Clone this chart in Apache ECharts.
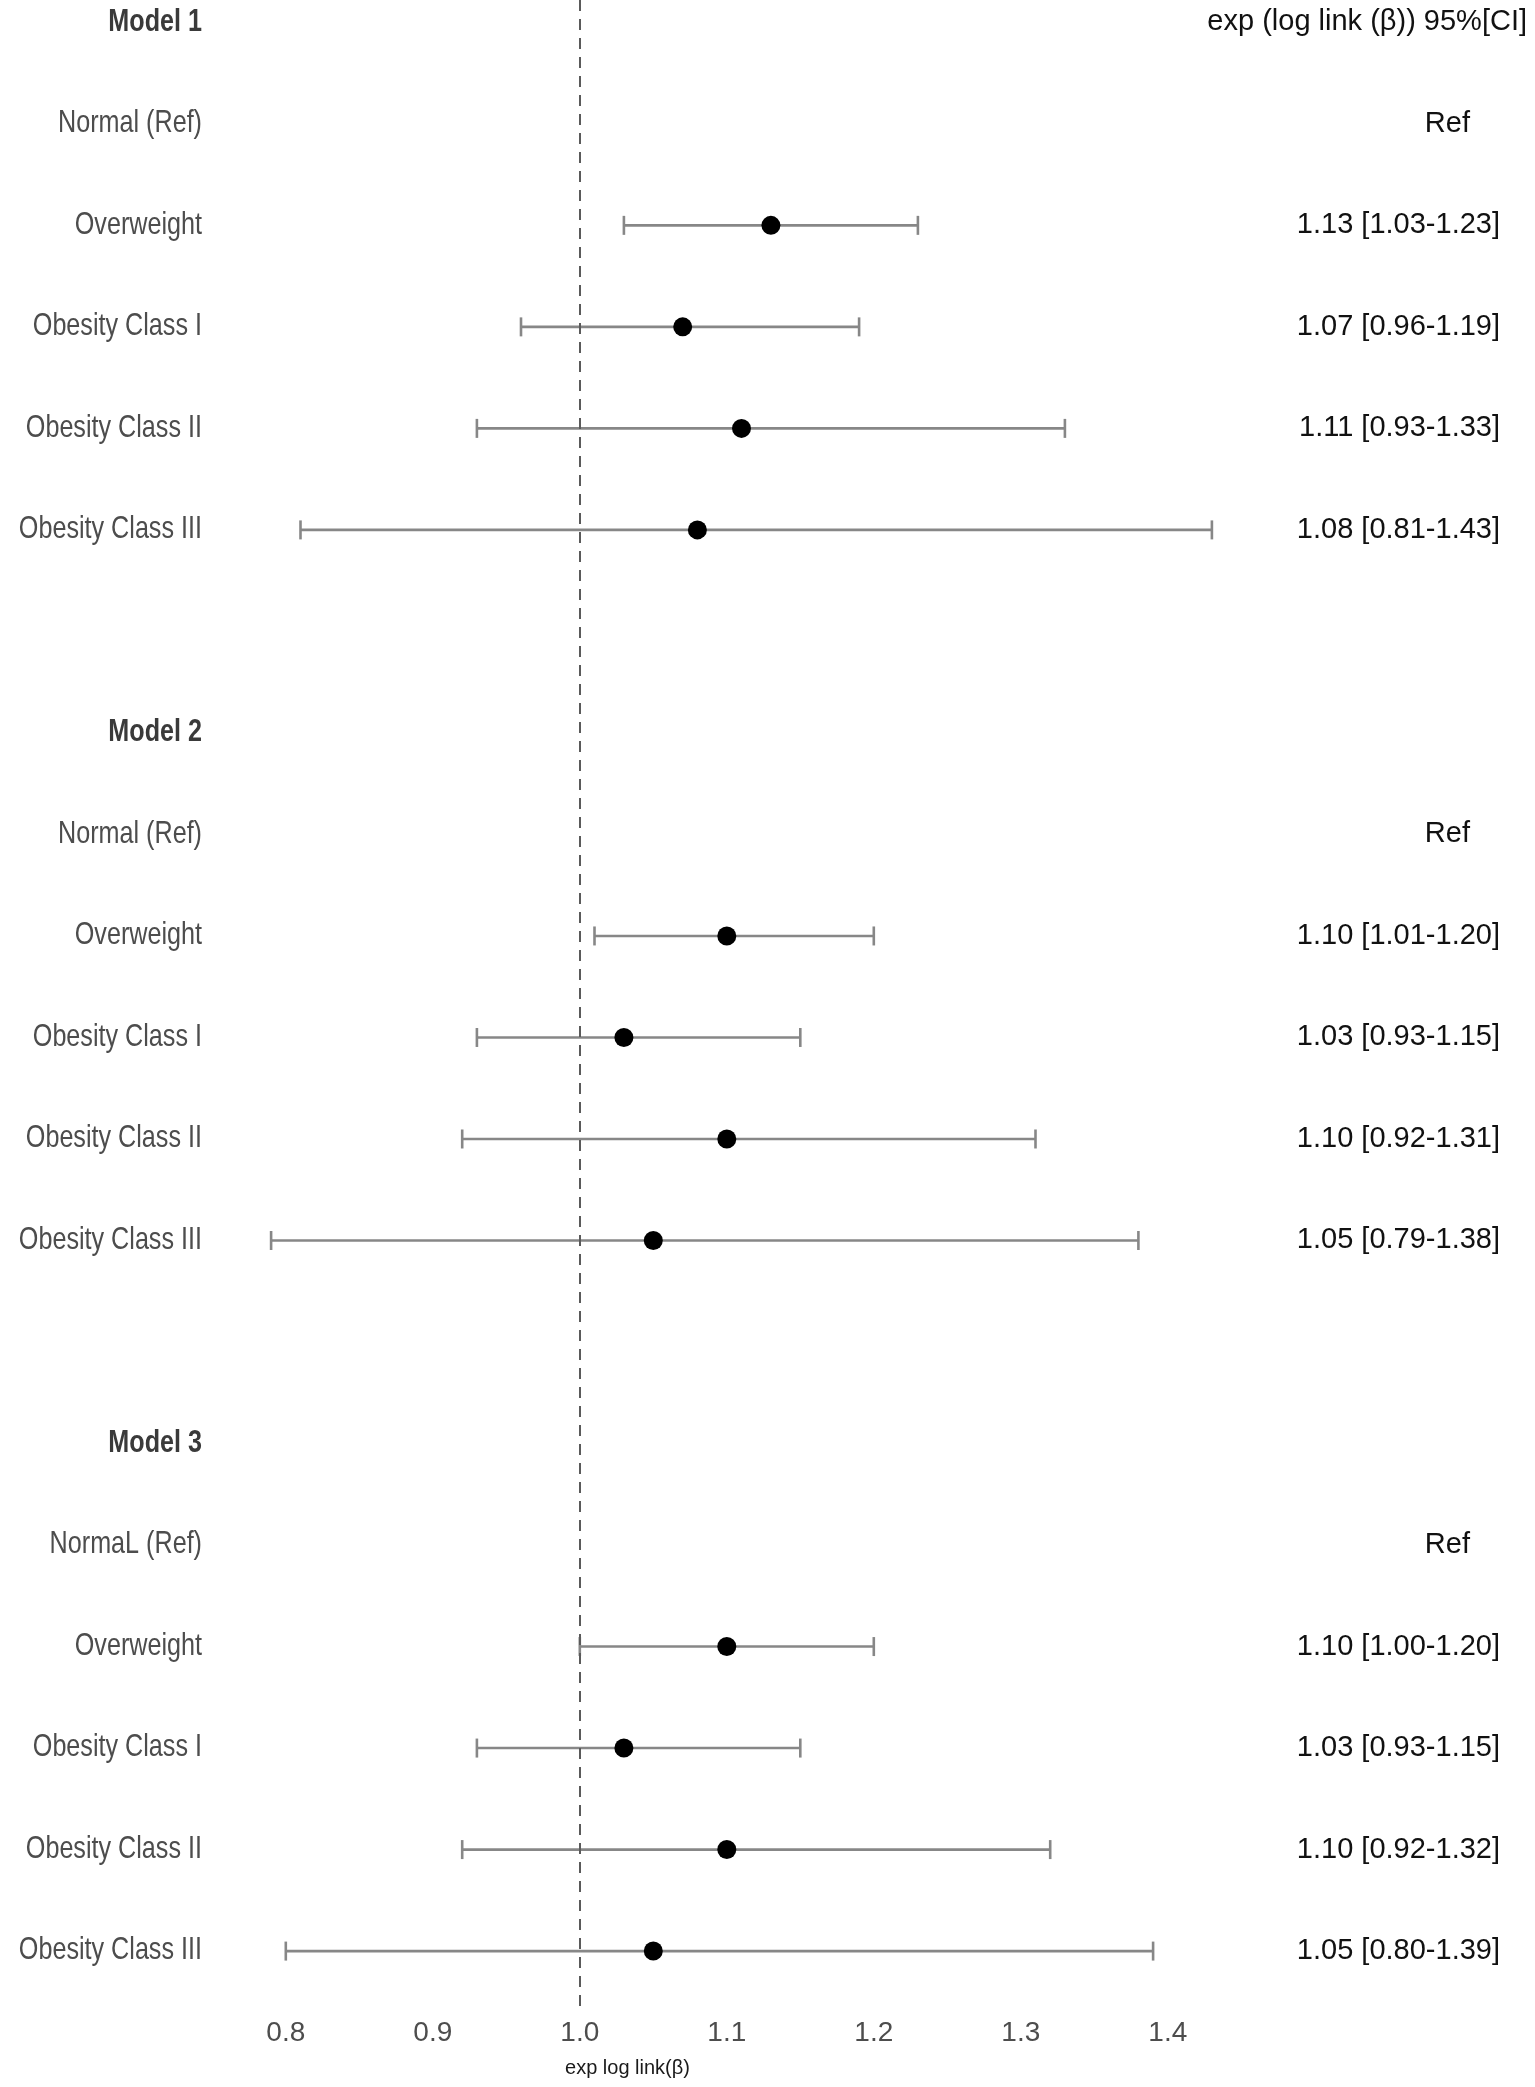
<!DOCTYPE html>
<html>
<head>
<meta charset="utf-8">
<style>
html,body{margin:0;padding:0;background:#fff;}
#chart{width:1535px;height:2087px;}
</style>
<script src="https://cdn.jsdelivr.net/npm/echarts@6/dist/echarts.min.js"></script>
</head>
<body>
<div id="chart"></div>
<script>
// ---- data ----
var rowLabels = [
  'Model 1', 'Normal (Ref)', 'Overweight', 'Obesity Class I', 'Obesity Class II', 'Obesity Class III', '',
  'Model 2', 'Normal (Ref)', 'Overweight', 'Obesity Class I', 'Obesity Class II', 'Obesity Class III', '',
  'Model 3', 'NormaL (Ref)', 'Overweight', 'Obesity Class I', 'Obesity Class II', 'Obesity Class III'
];
var headerRows = [0, 7, 14];
var refRows = [1, 8, 15];
var estimate = [null, null, 1.13, 1.07, 1.11, 1.08, null,
                null, null, 1.10, 1.03, 1.10, 1.05, null,
                null, null, 1.10, 1.03, 1.10, 1.05];
var lower    = [null, null, 1.03, 0.96, 0.93, 0.81, null,
                null, null, 1.01, 0.93, 0.92, 0.79, null,
                null, null, 1.00, 0.93, 0.92, 0.80];
var upper    = [null, null, 1.23, 1.19, 1.33, 1.43, null,
                null, null, 1.20, 1.15, 1.31, 1.38, null,
                null, null, 1.20, 1.15, 1.32, 1.39];
var columnHeader = 'exp (log link (\u03b2)) 95%[CI]';
var xTicks = [0.8, 0.9, 1.0, 1.1, 1.2, 1.3, 1.4];
var xTitle = 'exp log link(\u03b2)';
var refLine = 1.0;

// ---- build ----
var rowIdx = rowLabels.map(function (_, i) { return i; });
var pointData = [], barData = [], labelData = [];
rowIdx.forEach(function (i) {
  if (estimate[i] != null) {
    pointData.push([estimate[i], i]);
    barData.push([lower[i], upper[i], i]);
  }
  if (rowLabels[i]) labelData.push([refLine, i]);
});
function rightText(i) {
  if (i === 0) return '{h|' + columnHeader + '}';
  if (refRows.indexOf(i) >= 0) return '{r|Ref}';
  if (estimate[i] != null) {
    return '{v|' + estimate[i].toFixed(2) + ' [' + lower[i].toFixed(2) + '-' + upper[i].toFixed(2) + ']}';
  }
  return '';
}
var SANS = "'Liberation Sans',Arial,Helvetica,sans-serif";

var chart = echarts.init(document.getElementById('chart'), null, {renderer: 'canvas'});
chart.setOption({
  animation: false,
  backgroundColor: '#ffffff',
  grid: {left: 227, right: 279, top: 0, bottom: 75, containLabel: false},
  xAxis: {
    type: 'value', min: 0.76, max: 1.46,
    axisLine: {show: false}, axisTick: {show: false}, splitLine: {show: false},
    axisLabel: {
      customValues: xTicks, margin: 7,
      formatter: function (v) { return v.toFixed(1); },
      color: '#4d4d4d', fontFamily: SANS, fontSize: 28
    },
    name: xTitle, nameLocation: 'middle', nameGap: 46,
    nameTextStyle: {color: '#1a1a1a', fontFamily: SANS, fontSize: 20, padding: [0, 228, 0, 0]}
  },
  yAxis: [{
    type: 'value', min: -0.22, max: 19.6, inverse: true, position: 'left',
    axisLine: {show: false}, axisTick: {show: false}, splitLine: {show: false},
    axisLabel: {show: false}
  }, {
    type: 'value', min: -0.22, max: 19.6, inverse: true, position: 'right',
    axisLine: {show: false}, axisTick: {show: false}, splitLine: {show: false},
    axisLabel: {
      customValues: rowIdx, margin: 271, align: 'right',
      formatter: function (v) { return rightText(v); },
      rich: {
        h: {fontFamily: SANS, fontSize: 29, color: '#111'},
        v: {fontFamily: SANS, fontSize: 29, color: '#111', padding: [0, 27, 0, 0]},
        r: {fontFamily: SANS, fontSize: 29, color: '#111', padding: [0, 57, 0, 0]}
      }
    }
  }],
  series: [{
    // row labels (condensed look via horizontal scale)
    type: 'custom',
    xAxisIndex: 0, yAxisIndex: 0,
    data: labelData,
    encode: {x: 0, y: 1},
    clip: false,
    silent: true,
    renderItem: function (params, api) {
      var row = api.value(1);
      var p = api.coord([api.value(0), row]);
      var isHead = headerRows.indexOf(row) >= 0;
      return {
        type: 'text',
        x: params.coordSys.x - 25,
        y: p[1],
        scaleX: 0.825,
        style: {
          text: rowLabels[row],
          x: 0, y: 0,
          align: 'right', verticalAlign: 'middle',
          fontFamily: SANS, fontSize: 30.5,
          fontWeight: isHead ? 'bold' : 'normal',
          fill: isHead ? '#3a3a3a' : '#4d4d4d'
        }
      };
    }
  }, {
    type: 'custom',
    xAxisIndex: 0, yAxisIndex: 0,
    data: barData,
    encode: {x: [0, 1], y: 2},
    renderItem: function (params, api) {
      var y = api.value(2);
      var a = api.coord([api.value(0), y]);
      var b = api.coord([api.value(1), y]);
      var h = 9.5;
      var st = {stroke: '#878787', lineWidth: 2.6};
      return {
        type: 'group',
        children: [
          {type: 'line', shape: {x1: a[0], y1: a[1], x2: b[0], y2: b[1]}, style: st},
          {type: 'line', shape: {x1: a[0], y1: a[1] - h, x2: a[0], y2: a[1] + h}, style: st},
          {type: 'line', shape: {x1: b[0], y1: b[1] - h, x2: b[0], y2: b[1] + h}, style: st}
        ]
      };
    },
    z: 2
  }, {
    type: 'scatter',
    xAxisIndex: 0, yAxisIndex: 0,
    data: pointData,
    symbol: 'circle', symbolSize: 19,
    itemStyle: {color: '#000000', opacity: 1},
    z: 3,
    markLine: {
      silent: true, symbol: 'none', label: {show: false},
      lineStyle: {color: '#5a5a5a', width: 2, type: [11, 8]},
      data: [{xAxis: refLine}]
    }
  }]
});
</script>
</body>
</html>
